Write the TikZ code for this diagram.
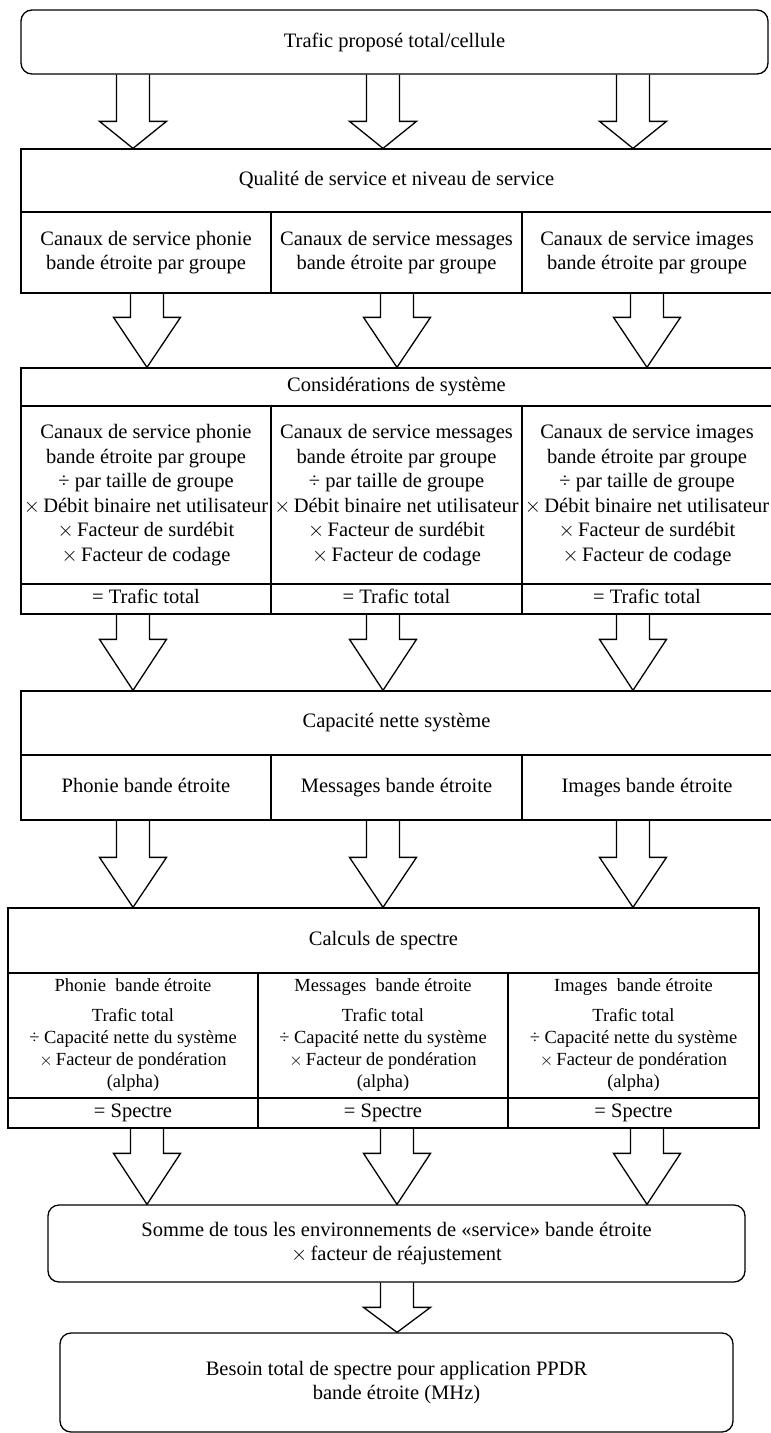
\documentclass[tikz,border=0pt]{standalone}
\usepackage{fontspec}
\setmainfont{Liberation Serif}
\usetikzlibrary{calc}

\newcommand{\fatarrow}[4]{%
  \draw[fat] let \p1=(#2.south), \p2=(#3.north), \p3=(#1,0) in
    (\x3-16.5,\y1) -- (\x3-16.5,\y2+#4) -- (\x3-33.5,\y2+#4) -- (\x3,\y2)
    -- (\x3+33.5,\y2+#4) -- (\x3+16.5,\y2+#4) -- (\x3+16.5,\y1);}
\newcommand{\mul}{$\times$\,}

\begin{document}
\begin{tikzpicture}[x=1pt,y=-1pt]
    \tikzstyle{box} = [rectangle, draw, line width=1.3pt, inner sep=0pt, align=center, font=\fontsize{20.5}{24.5}\selectfont]
    \tikzstyle{rbox} = [box, rounded corners=11pt]
    \tikzstyle{small} = [box, font=\fontsize{18.5}{22}\selectfont]
    \tikzstyle{fat} = [line width=1.3pt]

    \useasboundingbox (0,0) rectangle (771,1433);

      \draw
        (394.5,42) node[rbox, minimum width=747pt, minimum height=64pt] (top){Trafic proposé total/cellule}
        (396.5,180.5) node[box, minimum width=751pt, minimum height=63pt] (qos){Qualité de service et niveau de service}
        (146,252.5) node[box, minimum width=250pt, minimum height=81pt] (q1){Canaux de service phonie\\bande étroite par groupe}
        (396.5,252.5) node[box, minimum width=251pt, minimum height=81pt] (q2){Canaux de service messages\\bande étroite par groupe}
        (647,252.5) node[box, minimum width=250pt, minimum height=81pt] (q3){Canaux de service images\\bande étroite par groupe}
        (396.5,387) node[box, minimum width=751pt, minimum height=38pt] (sys){Considérations de système}
        (146,495) node[box, minimum width=250pt, minimum height=178pt] (s1){Canaux de service phonie\\bande étroite par groupe\\÷ par taille de groupe\\\mul Débit binaire net utilisateur\\\mul Facteur de surdébit\\\mul Facteur de codage}
        (396.5,495) node[box, minimum width=251pt, minimum height=178pt] (s2){Canaux de service messages\\bande étroite par groupe\\÷ par taille de groupe\\\mul Débit binaire net utilisateur\\\mul Facteur de surdébit\\\mul Facteur de codage}
        (647,495) node[box, minimum width=250pt, minimum height=178pt] (s3){Canaux de service images\\bande étroite par groupe\\÷ par taille de groupe\\\mul Débit binaire net utilisateur\\\mul Facteur de surdébit\\\mul Facteur de codage}
        (146,599) node[box, minimum width=250pt, minimum height=30pt] (t1){\strut= Trafic total}
        (396.5,599) node[box, minimum width=251pt, minimum height=30pt] (t2){\strut= Trafic total}
        (647,599) node[box, minimum width=250pt, minimum height=30pt] (t3){\strut= Trafic total}
        (396.5,723) node[box, minimum width=751pt, minimum height=64pt] (cap){Capacité nette système}
        (146,787.5) node[box, minimum width=250pt, minimum height=65pt] (n1){\strut Phonie bande étroite}
        (396.5,787.5) node[box, minimum width=251pt, minimum height=65pt] (n2){\strut Messages bande étroite}
        (647,787.5) node[box, minimum width=250pt, minimum height=65pt] (n3){\strut Images bande étroite}
        (383.5,940.5) node[box, minimum width=751pt, minimum height=65pt] (calc){Calculs de spectre}
        (133,1035.5) node[small, minimum width=250pt, minimum height=125pt] (c1){Phonie~ bande étroite\\[8pt]Trafic total\\÷ Capacité nette du système\\\mul Facteur de pondération\\(alpha)}
        (383,1035.5) node[small, minimum width=250pt, minimum height=125pt] (c2){Messages~ bande étroite\\[8pt]Trafic total\\÷ Capacité nette du système\\\mul Facteur de pondération\\(alpha)}
        (633.5,1035.5) node[small, minimum width=251pt, minimum height=125pt] (c3){Images~ bande étroite\\[8pt]Trafic total\\÷ Capacité nette du système\\\mul Facteur de pondération\\(alpha)}
        (133,1113) node[box, minimum width=250pt, minimum height=30pt] (p1){\strut= Spectre}
        (383,1113) node[box, minimum width=250pt, minimum height=30pt] (p2){\strut= Spectre}
        (633.5,1113) node[box, minimum width=251pt, minimum height=30pt] (p3){\strut= Spectre}
        (396.5,1243.5) node[rbox, minimum width=697pt, minimum height=77pt] (somme){Somme de tous les environnements de «service» bande étroite\\\mul facteur de réajustement}
        (396.5,1382.5) node[rbox, minimum width=673pt, minimum height=99pt] (besoin){Besoin total de spectre pour application PPDR\\bande étroite (MHz)};

      \begin{scope}
        \fatarrow{133}{top}{qos}{27}
        \fatarrow{383}{top}{qos}{27}
        \fatarrow{633}{top}{qos}{27}
        \fatarrow{147}{q1}{sys}{50}
        \fatarrow{397}{q2}{sys}{50}
        \fatarrow{647}{q3}{sys}{50}
        \fatarrow{133}{t1}{cap}{51}
        \fatarrow{383}{t2}{cap}{51}
        \fatarrow{633}{t3}{cap}{51}
        \fatarrow{133}{n1}{calc}{50}
        \fatarrow{383}{n2}{calc}{50}
        \fatarrow{633}{n3}{calc}{50}
        \fatarrow{147}{p1}{somme}{51}
        \fatarrow{397}{p2}{somme}{51}
        \fatarrow{647}{p3}{somme}{51}
        \fatarrow{397}{somme}{besoin}{25}
      \end{scope}
    \end{tikzpicture}
\end{document}
